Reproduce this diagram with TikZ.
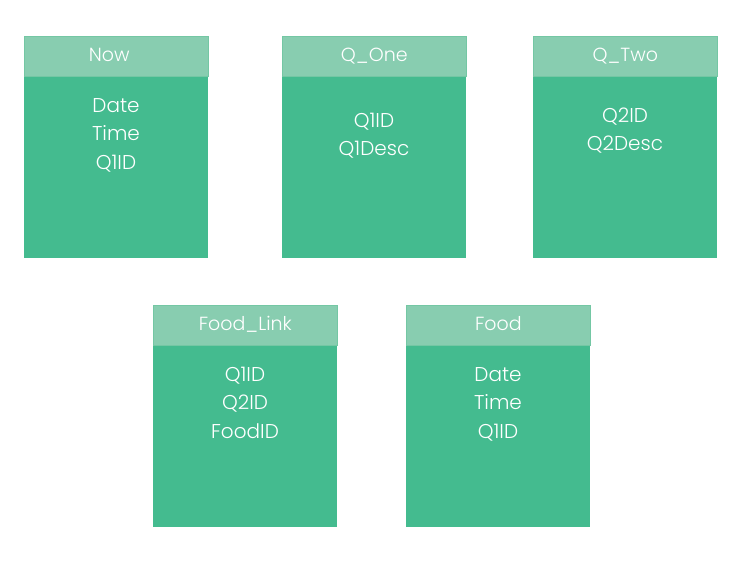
\documentclass[tikz,border=0pt]{standalone}
\usepackage{fontspec}
\setmainfont{Poppins Light}
\usetikzlibrary{positioning}

\definecolor{headgreen}{HTML}{88CDB0}
\definecolor{bodygreen}{HTML}{44BB8F}
\definecolor{edgegreen}{HTML}{74C7A4}

\tikzset{
  tablehead/.style={fill=headgreen, draw=edgegreen, line width=0.6pt, anchor=north west,
    minimum width=184pt, minimum height=40pt, inner sep=0pt,
    text height=25pt, text depth=15pt, text=white, font=\fontsize{19}{21}\selectfont},
  tablebody/.style={fill=bodygreen, anchor=north west,
    minimum width=184pt, minimum height=182pt, inner sep=0pt},
  field/.style={anchor=base, inner sep=0pt, text=white, font=\fontsize{20}{22}\selectfont}
}

\begin{document}
\begin{tikzpicture}[x=1pt,y=-1pt]
      \useasboundingbox (0,0) rectangle (746,563);
      % top row
      \node[tablebody] (nowbody) at (24,76) {};
      \node[tablehead] (nowhead) at (24,36) {\hspace*{-14pt}Now};
      \node[tablebody] (qonebody) at (282,76) {};
      \node[tablehead] (qonehead) at (282,36) {Q\_One};
      \node[tablebody] (qtwobody) at (533,76) {};
      \node[tablehead] (qtwohead) at (533,36) {Q\_Two};
      % bottom row
      \node[tablebody] (linkbody) at (153,345) {};
      \node[tablehead] (linkhead) at (153,305) {Food\_Link};
      \node[tablebody] (foodbody) at (406,345) {};
      \node[tablehead] (foodhead) at (406,305) {Food};
      % fields
      \foreach \f [count=\i] in {Date,Time,Q1ID}
        \node[field] (now-\i) at (116,112+28.5*\i-28.5) {\f};
      \foreach \f [count=\i] in {Q1ID,Q1Desc}
        \node[field] (qone-\i) at (374,127+28.5*\i-28.5) {\f};
      \foreach \f [count=\i] in {Q2ID,Q2Desc}
        \node[field] (qtwo-\i) at (625,122+28.5*\i-28.5) {\f};
      \foreach \f [count=\i] in {Q1ID,Q2ID,FoodID}
        \node[field] (link-\i) at (245,381+28.5*\i-28.5) {\f};
      \foreach \f [count=\i] in {Date,Time,Q1ID}
        \node[field] (food-\i) at (498,381+28.5*\i-28.5) {\f};
    \end{tikzpicture}
\end{document}
